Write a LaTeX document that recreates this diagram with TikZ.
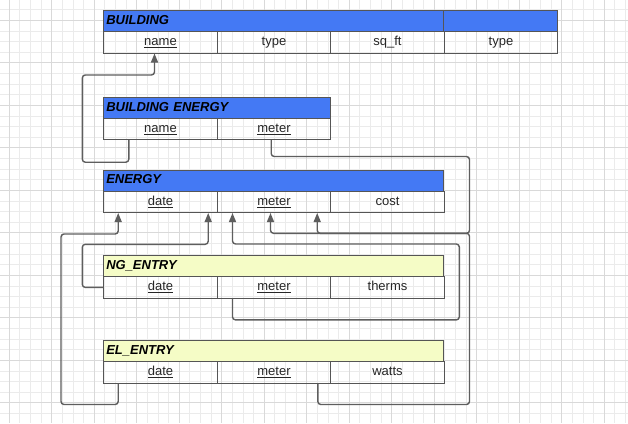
\documentclass[tikz,border=0pt]{standalone}
\usepackage{fontspec}
\setmainfont{Liberation Sans}
\usetikzlibrary{arrows.meta,calc}
\definecolor{hdrblue}{HTML}{4479F4}
\definecolor{hdryel}{HTML}{F5FCC6}
\definecolor{gridminor}{HTML}{EBEBEB}
\definecolor{gridmajor}{HTML}{D9D9D9}
\definecolor{linegray}{HTML}{5E5E5E}
\definecolor{boxline}{HTML}{555555}
\begin{document}
\begin{tikzpicture}[x=1pt,y=-1pt,
  cell/.style={draw=boxline, line width=0.9pt, minimum width=113.5pt, minimum height=21.3pt,
    inner sep=0pt, anchor=north west, font=\fontsize{13}{15}\selectfont, text=black!85,
    text height=9.4pt, text depth=2.8pt},
  hdr/.style={cell, fill=hdrblue, font=\fontsize{13}{15}\selectfont\bfseries\itshape,
    align=left, inner xsep=2.5pt, text=black},
  hdry/.style={hdr, fill=hdryel},
  conn/.style={draw=linegray, line width=1.4pt, rounded corners=3pt},
  arr/.style={-{Triangle[length=9pt,width=7pt]}},
  gmin/.style={draw=gridminor, line width=0.7pt},
  gmaj/.style={draw=gridmajor, line width=0.8pt}
]
\useasboundingbox (0,0) rectangle (628,423);
\fill[white] (0,0) rectangle (628,423);
% grid
\foreach \i in {0,...,58} {\draw[gmin] ({9.2+\i*10.625},0) -- ++(0,423);}
\foreach \i in {0,...,40} {\draw[gmin] (0,{9.7+\i*10.625}) -- ++(628,0);}
\foreach \i in {0,...,14} {\draw[gmaj] ({9.2+\i*42.5},0) -- ++(0,423);}
\foreach \i in {0,...,10} {\draw[gmaj] (0,{20.3+\i*42.5}) -- ++(628,0);}

% BUILDING
\node[hdr, text width=335pt] (Bh) at (103.3,10) {BUILDING};
\node[hdr, text width=108.5pt] (Bh2) at (443.3,10) {};
\node[cell] (Bn) at (103.3,31.3) {\underline{name}};
\node[cell] (Bt) at (216.8,31.3) {type};
\node[cell] (Bs) at (330.3,31.3) {sq\_ft};
\node[cell] (Bt2) at (443.8,31.3) {type};

% BUILDING ENERGY
\node[hdr, text width=222pt] (BEh) at (103.3,96.7) {BUILDING ENERGY};
\node[cell] (BEn) at (103.3,118) {\underline{name}};
\node[cell] (BEm) at (216.8,118) {\underline{meter}};

% ENERGY
\node[hdr, text width=335pt] (Eh) at (103.3,169.5) {ENERGY};
\node[cell] (Ed) at (103.3,190.8) {\underline{date}};
\node[cell] (Em) at (216.8,190.8) {\underline{meter}};
\node[cell] (Ec) at (330.3,190.8) {cost};

% NG_ENTRY
\node[hdry, text width=335pt] (NGh) at (103.3,255) {NG\_ENTRY};
\node[cell] (NGd) at (103.3,276.3) {\underline{date}};
\node[cell] (NGm) at (216.8,276.3) {\underline{meter}};
\node[cell] (NGt) at (330.3,276.3) {therms};

% EL_ENTRY
\node[hdry, text width=335pt] (ELh) at (103.3,340) {EL\_ENTRY};
\node[cell] (ELd) at (103.3,361.3) {\underline{date}};
\node[cell] (ELm) at (216.8,361.3) {\underline{meter}};
\node[cell] (ELw) at (330.3,361.3) {watts};

% connectors
\draw[conn,arr] ([xshift=-31.7pt]BEn.south) -- ++(0,22) -| (82.3,75) -| ([xshift=-6pt]Bn.south);
\draw[conn,arr] ([xshift=-2.8pt]BEm.south) -- ++(0,16.3) -| (469.5,233.3) -| ([xshift=-3.5pt]Em.south);
\draw[conn,arr] ([xshift=43.8pt]ELm.south) -- ++(0,21) -| (469.5,233.3) -| ([xshift=43.2pt]Em.south);
\draw[conn,arr] ([xshift=-41.5pt]NGm.south) -- ++(0,21.4) -| (459.3,244) -| ([xshift=-41.5pt]Em.south);
\draw[conn,arr] (NGd.west) -| (82.3,244.3) -| ([xshift=47.7pt]Ed.south);
\draw[conn,arr] ([xshift=-42.3pt]ELd.south) -- ++(0,21) -| (61,234) -| ([xshift=-42.3pt]Ed.south);
\end{tikzpicture}
\end{document}
